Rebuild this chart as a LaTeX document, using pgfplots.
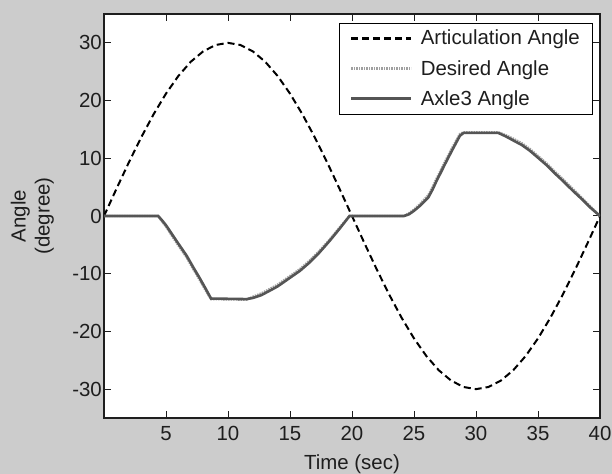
\documentclass[border=0pt]{standalone}
\usepackage{fontspec}
\setmainfont{Liberation Sans}
\usepackage{pgfplots}
\pgfplotsset{compat=1.18}
\definecolor{figbg}{HTML}{CCCCCC}
\definecolor{axle}{HTML}{555555}
\definecolor{desired}{HTML}{A0A0A0}
\definecolor{txt}{HTML}{1E1E1E}
\begin{document}
\begin{tikzpicture}
\useasboundingbox (0,0) rectangle (612bp,474bp);
\fill[figbg] (0,0) rectangle (612bp,474bp);
\begin{axis}[
  at={(104bp,56bp)}, anchor=south west, scale only axis,
  width=496bp, height=404bp,
  xmin=0, xmax=40, ymin=-35, ymax=35,
  xtick={5,10,...,40}, ytick={-30,-20,...,30},
  axis background/.style={fill=white},
  axis line style={line width=1.3bp, txt},
  major tick style={line width=1bp, txt},
  major tick length=7bp,
  tick align=inside,
  font=\fontsize{20.5}{24}\selectfont,
  ticklabel style={font=\fontsize{20.5}{24}\selectfont, text=txt},
  yticklabel style={inner xsep=2bp},
  xticklabel style={yshift=-5bp},
  /pgf/number format/assume math mode=true,
  xlabel={Time (sec)},
  ylabel={Angle\\(degree)},
  xlabel style={text=txt, yshift=-7bp},
  ylabel style={align=center, text=txt, yshift=13bp},
  legend image code/.code={\draw[#1] (0bp,0bp) -- (60bp,0bp); \path (66bp,0bp);},
  legend image post style={line width=3.2bp},
  legend style={at={(1,1)}, xshift=-8bp, yshift=-9bp, anchor=north east,
    draw=black, fill=white, text=txt,
    font=\fontsize{20.5}{24}\selectfont, row sep=10bp, inner xsep=10bp, inner ysep=5bp},
  legend cell align=left,
]
\addplot[black, line width=2bp, dash pattern=on 7bp off 4bp] coordinates {
(0,0) (1,4.69) (2,9.27) (3,13.62) (4,17.63) (5,21.21) (6,24.27) (7,26.73) (8,28.53) (9,29.63) (10,30.00)
(11,29.63) (12,28.53) (13,26.73) (14,24.27) (15,21.21) (16,17.63) (17,13.62) (18,9.27) (19,4.69) (20,0)
(21,-4.69) (22,-9.27) (23,-13.62) (24,-17.63) (25,-21.21) (26,-24.27) (27,-26.73) (28,-28.53) (29,-29.63) (30,-30.00)
(31,-29.63) (32,-28.53) (33,-26.73) (34,-24.27) (35,-21.21) (36,-17.63) (37,-13.62) (38,-9.27) (39,-4.69) (40,0)
};
\addlegendentry{Articulation Angle}
\addplot[desired, line width=2.4bp, dash pattern=on 1.5bp off 1bp] coordinates {
(0,0) (4.37,0) (4.7,-1.0) (5.0,-1.8) (5.5,-3.5) (6.0,-5.1) (6.67,-7.2) (7.2,-9.2) (7.7,-11.0) (8.2,-12.9) (8.63,-14.4)
(11.5,-14.5) (12.0,-14.0) (12.7,-13.4) (13.4,-12.6) (14.0,-11.9) (14.8,-10.7) (15.8,-9.2) (16.5,-7.9) (17.3,-6.2) (18.2,-4.1) (19.0,-2.0) (19.8,0)
(24.2,0) (24.6,0.5) (25.0,1.1) (25.5,2.1) (26.15,3.6) (26.5,5.0) (26.8,6.4) (27.2,8.1) (27.5,9.4) (28.1,11.9) (28.7,14.2) (29.0,14.5)
(31.8,14.5) (32.4,14.0) (33.0,13.4) (33.7,12.6) (34.35,11.6) (35.0,10.4) (35.7,9.1) (36.3,7.8) (37.0,6.4) (37.8,4.7) (38.5,3.2) (39.2,1.7) (40,0)
};
\addlegendentry{Desired Angle}
\addplot[axle, line width=2.6bp] coordinates {
(0,0) (4.37,0) (4.7,-0.8) (5.0,-1.6) (5.5,-3.2) (6.0,-4.8) (6.67,-6.9) (7.2,-8.9) (7.7,-10.7) (8.2,-12.6) (8.63,-14.3)
(11.5,-14.4) (12.0,-14.2) (12.7,-13.7) (13.4,-12.9) (14.0,-12.2) (14.8,-11.0) (15.8,-9.5) (16.5,-8.2) (17.3,-6.5) (18.2,-4.3) (19.0,-2.2) (19.8,0)
(24.2,0) (24.6,0.3) (25.0,0.9) (25.5,1.8) (26.15,3.2) (26.5,4.6) (26.8,6.0) (27.2,7.7) (27.5,9.0) (28.1,11.5) (28.7,13.9) (29.0,14.4)
(31.8,14.4) (32.4,13.8) (33.0,13.1) (33.7,12.3) (34.35,11.3) (35.0,10.1) (35.7,8.8) (36.3,7.5) (37.0,6.1) (37.8,4.4) (38.5,3.0) (39.2,1.5) (40,0)
};
\addlegendentry{Axle3 Angle}
\end{axis}
\end{tikzpicture}
\end{document}
